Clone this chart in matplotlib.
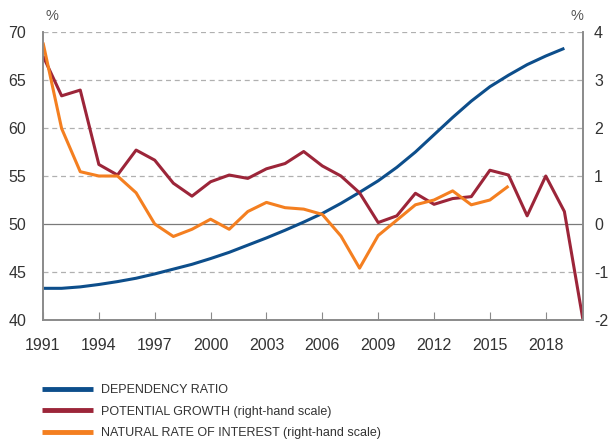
import matplotlib
matplotlib.use("Agg")
import matplotlib.pyplot as plt

years = list(range(1991, 2021))

dependency_ratio = [43.3, 43.3, 43.45, 43.7, 44.0, 44.35, 44.8, 45.3, 45.8, 46.4,
                    47.05, 47.8, 48.55, 49.35, 50.2, 51.1, 52.15, 53.3, 54.5, 55.9,
                    57.5, 59.3, 61.1, 62.8, 64.3, 65.5, 66.6, 67.5, 68.3]
potential_growth = [3.5, 2.67, 2.79, 1.24, 1.02, 1.54, 1.33, 0.85, 0.58, 0.88,
                    1.02, 0.95, 1.15, 1.26, 1.51, 1.21, 1.0, 0.65, 0.03, 0.17,
                    0.64, 0.41, 0.53, 0.57, 1.12, 1.02, 0.17, 1.0, 0.26, -2.0]
natural_rate = [3.78, 1.99, 1.09, 1.0, 1.0, 0.65, 0.0, -0.26, -0.11, 0.10,
                -0.11, 0.26, 0.45, 0.34, 0.31, 0.20, -0.25, -0.92, -0.24, 0.08,
                0.40, 0.50, 0.69, 0.40, 0.50, 0.79]

labels = ["DEPENDENCY RATIO",
          "POTENTIAL GROWTH (right-hand scale)",
          "NATURAL RATE OF INTEREST (right-hand scale)"]
colors = ["#0d4e8b", "#9c2539", "#f47f20"]

plt.rcParams['font.family'] = ['Liberation Sans', 'DejaVu Sans']
plt.rcParams['axes.unicode_minus'] = False
grey = "#8a8a8a"

fig = plt.figure(figsize=(6.15, 4.44), dpi=100)
ax = fig.add_axes([43/615, 1-320/444, 540/615, 288/444])
ax2 = ax.twinx()

l1, = ax.plot(years[:len(dependency_ratio)], dependency_ratio, color=colors[0], lw=2.2,
              solid_capstyle='butt', clip_on=False)
l2, = ax2.plot(years[:len(potential_growth)], potential_growth, color=colors[1], lw=2.2,
               solid_capstyle='butt')
l3, = ax2.plot(years[:len(natural_rate)], natural_rate, color=colors[2], lw=2.2,
               solid_capstyle='butt')

ax.set_xlim(1991, 2020)
ax.set_ylim(40, 70)
ax2.set_ylim(-2, 4)
ax.set_yticks(range(40, 71, 5))
ax2.set_yticks(range(-2, 5))
ax.set_xticks(range(1991, 2019, 3))

for y in range(45, 71, 5):
    if y == 50:
        ax.axhline(y, color="#7a7a7a", lw=0.9, zorder=0)
    else:
        ax.axhline(y, color="#b0b0b0", lw=0.9, ls=(0, (4, 3)), zorder=0)

for a in (ax, ax2):
    a.spines['top'].set_visible(False)
    for s in ('left', 'right', 'bottom'):
        a.spines[s].set_color(grey)
        a.spines[s].set_linewidth(1.2)

ax.tick_params(axis='y', length=0, pad=12, labelsize=11.5, labelcolor="#333333")
ax2.tick_params(axis='y', length=0, pad=8, labelsize=11.5, labelcolor="#333333")
ax.tick_params(axis='x', direction='in', length=6, color=grey, pad=13,
               labelsize=11.5, labelcolor="#333333")

fig.text(52/615, 1-16/444, "%", fontsize=10.5, color="#555555", ha='center', va='center')
fig.text(577/615, 1-16/444, "%", fontsize=10.5, color="#555555", ha='center', va='center')

leg = fig.legend([l1, l2, l3], labels, loc='upper left', bbox_to_anchor=(42/615, 1-384/444),
                 frameon=False, fontsize=9, handlelength=4.1, handletextpad=0.62,
                 labelspacing=0.76, borderpad=0, borderaxespad=0)
for t in leg.get_texts():
    t.set_color("#333333")
for h in leg.get_lines():
    h.set_linewidth(3.5)

fig.savefig("out.png", dpi=100)
